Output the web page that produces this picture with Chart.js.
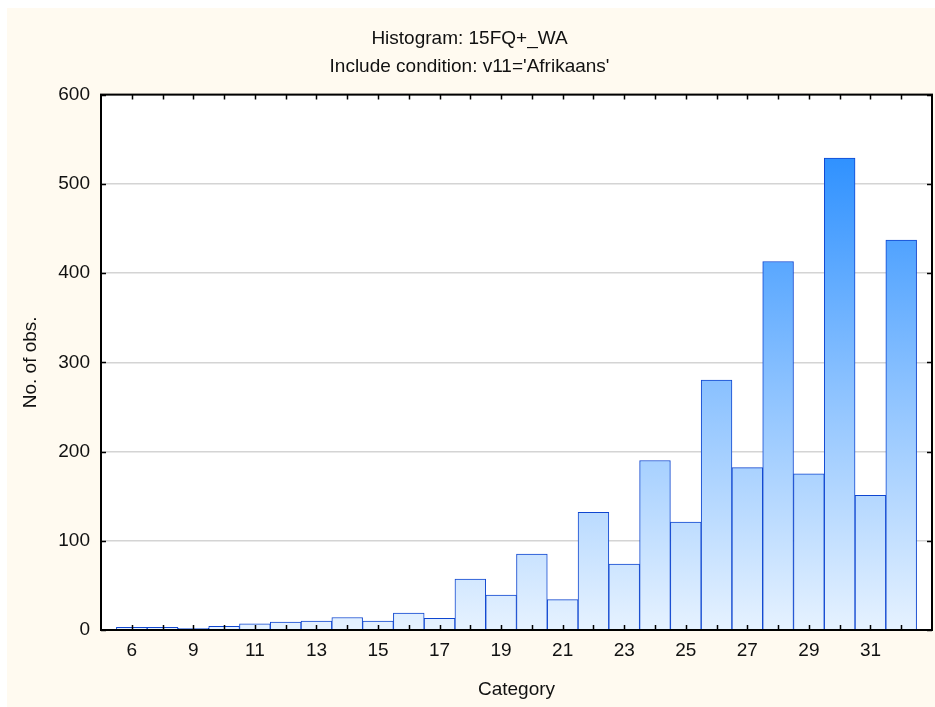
<!DOCTYPE html>
<html>
<head>
<meta charset="utf-8">
<script src="https://cdn.jsdelivr.net/npm/chart.js@4.4.1/dist/chart.umd.min.js"></script>
<style>
  html, body { margin: 0; padding: 0; background: #ffffff; }
  #wrap { position: absolute; left: 7px; top: 8px; width: 928px; height: 699px; }
</style>
</head>
<body>
<div id="wrap"><canvas id="chart"></canvas></div>
<script>
// histogram bins (every other one gets a label on the axis)
const categories = ['6', '8', '9', '10', '11', '12', '13', '14', '15', '16', '17', '18', '19',
  '20', '21', '22', '23', '24', '25', '26', '27', '28', '29', '30', '31', '32'];
const counts = [3, 3, 2, 4, 7, 9, 10, 14, 10, 19, 13, 57, 39,
  85, 34, 132, 74, 190, 121, 280, 182, 413, 175, 529, 151, 437];
const yTicks = [0, 100, 200, 300, 400, 500, 600];

const FONT = 'Arial, "Liberation Sans", sans-serif';
const TEXT = '#111111';
const FS = 19;

function barGradient(c) {
  const { ctx, chartArea } = c.chart;
  if (!chartArea) return '#8cc4ff';
  const g = ctx.createLinearGradient(0, chartArea.top, 0, chartArea.bottom);
  g.addColorStop(0, '#1684ff');
  g.addColorStop(0.55, '#8cc2ff');
  g.addColorStop(1, '#e6f2ff');
  return g;
}

// cream page, white plot area
const backdrop = {
  id: 'backdrop',
  beforeDraw(chart) {
    const { ctx, chartArea: a } = chart;
    ctx.save();
    ctx.fillStyle = '#fffaf0';
    ctx.fillRect(0, 0, chart.width, chart.height);
    ctx.fillStyle = '#ffffff';
    ctx.fillRect(a.left, a.top, a.width, a.height);
    ctx.restore();
  },
};

// box around the plot with tick marks pointing inward
const frame = {
  id: 'frame',
  afterDraw(chart) {
    const { ctx, chartArea: a, scales: { x, y } } = chart;
    ctx.save();
    ctx.strokeStyle = '#000000';
    ctx.lineWidth = 1.5;
    ctx.beginPath();
    x.ticks.forEach((t, i) => {
      if (t.value < 1 || t.value > counts.length) return;
      const px = Math.round(x.getPixelForTick(i)) + 0.5;
      ctx.moveTo(px, a.bottom); ctx.lineTo(px, a.bottom - 5);
      ctx.moveTo(px, a.top); ctx.lineTo(px, a.top + 5);
    });
    y.ticks.forEach((t, i) => {
      const py = Math.round(y.getPixelForTick(i)) + 0.5;
      ctx.moveTo(a.left, py); ctx.lineTo(a.left + 5, py);
      ctx.moveTo(a.right, py); ctx.lineTo(a.right - 5, py);
    });
    ctx.stroke();
    ctx.lineWidth = 2;
    ctx.strokeRect(a.left, a.top, a.width, a.height);
    ctx.restore();
  },
};

new Chart(document.getElementById('chart'), {
  type: 'bar',
  data: {
    datasets: [{
      data: counts.map((v, i) => ({ x: i + 1, y: v })),
      backgroundColor: barGradient,
      borderColor: '#0f46d0',
      borderWidth: 1,
      barPercentage: 1,
      categoryPercentage: 1,
    }],
  },
  options: {
    responsive: true,
    maintainAspectRatio: false,
    animation: false,
    events: [],
    layout: { padding: { left: 0, right: 3, top: 0, bottom: 0 } },
    plugins: {
      legend: { display: false },
      tooltip: { enabled: false },
      title: {
        display: true,
        text: 'Histogram: 15FQ+_WA',
        color: TEXT,
        font: { family: FONT, size: FS, weight: 'normal' },
        padding: { top: 19, bottom: 6 },
      },
      subtitle: {
        display: true,
        text: "Include condition: v11='Afrikaans'",
        color: TEXT,
        font: { family: FONT, size: FS, weight: 'normal' },
        padding: { top: 0, bottom: 16 },
      },
    },
    scales: {
      x: {
        type: 'linear',
        offset: false,
        min: 0,
        max: categories.length + 1,
        afterFit: (s) => { s.height = 77; },
        afterBuildTicks: (s) => {
          s.ticks = categories.map((c, i) => ({ value: i + 1 }));
        },
        ticks: {
          autoSkip: false,
          maxRotation: 0,
          padding: 9,
          color: TEXT,
          font: { family: FONT, size: FS },
          callback: (v) => (v % 2 === 1 ? categories[v - 1] : ''),
        },
        grid: { display: false, drawTicks: false, offset: false },
        border: { display: false },
        title: {
          display: true,
          text: 'Category',
          color: TEXT,
          font: { family: FONT, size: FS },
          padding: { top: 0, bottom: 6 },
        },
      },
      y: {
        min: yTicks[0],
        max: yTicks[yTicks.length - 1],
        afterFit: (s) => { s.width = 94; },
        afterBuildTicks: (s) => { s.ticks = yTicks.map((v) => ({ value: v })); },
        ticks: {
          padding: 11,
          color: TEXT,
          font: { family: FONT, size: FS },
        },
        grid: { color: '#d4d4d4', lineWidth: 1.5, drawTicks: false },
        border: { display: false },
        title: {
          display: true,
          text: 'No. of obs.',
          color: TEXT,
          font: { family: FONT, size: FS },
          padding: { top: 12, bottom: 0 },
        },
      },
    },
  },
  plugins: [backdrop, frame],
});
</script>
</body>
</html>
